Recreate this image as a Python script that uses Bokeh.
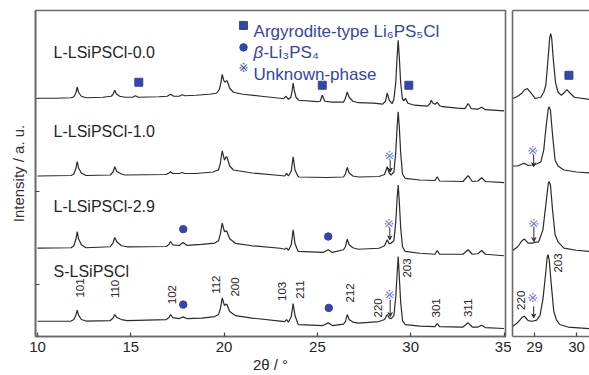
from math import pi
from bokeh.plotting import figure
from bokeh.models import (Range1d, FixedTicker, Arrow, VeeHead, ColumnDataSource,
                          LinearAxis, CustomLabelingPolicy)
from bokeh.layouts import row
from bokeh.embed import file_html
from bokeh.resources import INLINE
from bokeh.core.properties import value

# ------------------------------------------------------------------ data
sample_names = ["L-LSiPSCl-0.0", "L-LSiPSCl-1.0", "L-LSiPSCl-2.9", "S-LSiPSCl"]
name_x = 10.86
name_y = [285, 205.5, 130, 65]

# (2theta, stacked intensity / a.u.)
pattern_00 = [(10.0,239),(11.0,239),(11.8,239.5),(11.95,240.5),(12.05,244),(12.13,250),(12.2,245),(12.35,241),(12.6,239.5),
(13.5,240),(13.95,241),(14.05,243),(14.14,247),(14.22,243.5),(14.4,241),(14.7,240),
(15.1,240),(15.25,241.5),(15.4,240),(16.5,240.5),(16.95,241),(17.13,243),(17.3,241),(17.6,241),(17.75,242.5),(17.9,241.5),
(18.5,242),(19.2,243),(19.6,244),(19.75,248),(19.82,254),(19.9,263),(19.98,257),(20.05,255),(20.12,256.5),(20.17,256.3),(20.3,249),(20.5,245),
(21.0,243),(22.0,241),(23.0,239),(23.2,238.5),(23.3,241),(23.45,238),(23.58,240),(23.65,247),(23.7,254.3),(23.76,247),(23.85,240),(24.0,237),
(25.0,235.5),(25.15,236),(25.26,242),(25.4,236),(25.8,235),(26.4,235),(26.5,239),(26.6,245.3),(26.7,240),(26.9,236),(27.2,234.5),
(28.0,234),(28.5,233),(28.65,236),(28.74,244),(28.85,237),(29.0,233.5),(29.1,238),(29.2,255),(29.27,280),(29.33,297),(29.39,280),(29.46,255),(29.56,238),(29.65,236.5),(29.72,239),(29.85,234),
(30.2,232),(30.9,231),(31.05,234),(31.1,237),(31.2,234),(31.3,233),(31.42,235),(31.55,231.5),(31.7,230.5),(32.5,229),(32.9,228.5),(33.08,233.7),(33.25,228.5),(33.6,228),(33.8,230),(34.0,227.5),(35.0,226.3)]

pattern_10 = [(10.0,161),(11.8,161.5),(11.95,163),(12.05,168),(12.13,175.3),(12.2,169),(12.35,164),(12.6,161.5),
(13.9,162),(14.05,165),(14.14,170.3),(14.25,165.5),(14.5,163),(14.7,162),
(16.9,162.5),(17.05,164),(17.13,165.3),(17.25,163.5),(17.6,163.5),(17.75,164.5),(17.9,163.5),
(18.5,163.5),(19.4,165),(19.7,167),(19.8,174),(19.9,186.3),(20.02,177),(20.1,180),(20.15,180.3),(20.3,171),(20.5,167),
(21.5,164),(23.0,161.5),(23.25,161),(23.35,163.7),(23.45,161),(23.6,166),(23.7,180.3),(23.8,167),(23.95,161),(24.0,160),
(25.5,159.5),(26.4,160),(26.5,163),(26.6,169.7),(26.7,164),(26.9,161),(27.2,160),
(28.3,160.5),(28.6,162.5),(28.74,170.3),(28.85,164),(28.95,162),(29.1,165),(29.2,185),(29.27,210),(29.33,225.3),(29.39,210),(29.46,185),(29.56,163),(29.7,158.7),
(30.5,157),(31.3,156.5),(31.42,160.3),(31.55,156),(32.8,155.5),(33.08,161.3),(33.3,155.5),(33.6,156),(33.8,159.3),(34.0,155.5),(35.0,154.3)]

pattern_29 = [(10.0,88.7),(11.8,89),(11.95,91),(12.05,97),(12.13,105.3),(12.2,98),(12.35,92),(12.6,89),
(13.9,90),(14.05,94),(14.14,99.3),(14.25,95),(14.5,91),(14.8,90),
(16.9,90.3),(17.05,92.5),(17.13,95.3),(17.25,92),(17.6,91.3),(17.8,94.3),(18.0,91.5),
(18.8,92.5),(19.5,93.7),(19.7,96),(19.8,103),(19.9,113.7),(20.02,105),(20.1,106),(20.15,105.3),(20.3,98),(20.6,93.5),
(21.5,91),(23.0,88.5),(23.25,87.5),(23.35,88.7),(23.45,86.5),(23.6,92),(23.7,107),(23.8,93),(23.95,86),(24.0,85.3),
(25.3,84.3),(25.58,87),(25.8,84.3),(26.4,87),(26.5,90),(26.6,97.7),(26.7,92),(26.9,89),(27.2,87.5),
(28.3,88.5),(28.6,91),(28.74,97),(28.85,93),(28.95,93.7),(29.1,96),(29.2,115),(29.27,138),(29.33,152),(29.39,135),(29.46,110),(29.56,90),(29.7,85.3),
(30.5,83.5),(31.3,82.5),(31.42,86.3),(31.55,82.5),(32.8,82.5),(33.08,87),(33.3,82.5),(33.6,83),(33.8,86.3),(34.0,82.5),(35.0,81)]

pattern_s = [(10.0,15.3),(11.8,15.5),(11.95,17),(12.05,21),(12.13,26.3),(12.2,21.5),(12.35,17),(12.6,15.5),
(13.9,16),(14.05,18.5),(14.14,22),(14.25,19),(14.5,17),(14.8,16),
(16.9,17),(17.05,19),(17.13,22),(17.25,19),(17.6,18),(17.8,19.7),(18.0,18),
(18.8,18.5),(19.5,20),(19.7,22),(19.8,28),(19.9,38.7),(20.02,31),(20.1,32.5),(20.15,32),(20.3,25),(20.6,21),
(21.5,18.5),(23.0,15.5),(23.25,15),(23.35,17),(23.45,14.5),(23.6,20),(23.7,33),(23.8,21),(23.95,13),(24.0,12),
(25.3,11),(25.58,13.7),(25.8,11),(26.4,12.5),(26.5,15),(26.6,22),(26.7,17),(26.9,14.5),(27.2,13.5),
(28.3,15),(28.6,17),(28.74,22),(28.85,18.5),(28.95,18),(29.1,21),(29.2,40),(29.27,62),(29.33,80.3),(29.39,60),(29.46,35),(29.56,16),(29.7,12),
(30.5,10.5),(31.3,10),(31.42,13),(31.55,10),(32.8,9.5),(33.08,13.7),(33.3,9.5),(33.6,9.5),(33.8,11.3),(34.0,9),(35.0,8)]

# enlarged 28.5-30.3 region
zoom_00 = [(28.45,238),(28.6,241),(28.7,244),(28.75,247),(28.83,248.7),(28.92,244),(29.02,238.7),(29.15,240),(29.22,245),(29.27,252),(29.32,277),(29.36,299),(29.385,303.7),(29.41,299),(29.45,277),(29.5,255),(29.56,245),(29.64,242),(29.72,245),(29.77,247.7),(29.85,244),(29.95,240),(30.35,237.5)]
zoom_10 = [(28.45,171),(28.6,171),(28.7,173),(28.76,173.7),(28.85,171.5),(28.95,172),(29.05,173),(29.15,175),(29.22,187),(29.28,212),(29.33,229),(29.35,230.3),(29.38,227),(29.43,202),(29.49,177),(29.56,171),(29.7,167),(30.0,165),(30.35,164)]
zoom_29 = [(28.45,85.3),(28.6,90),(28.7,96),(28.76,97.7),(28.85,93.7),(28.95,93.7),(29.0,94.5),(29.1,95),(29.2,107),(29.27,132),(29.33,154),(29.35,155.3),(29.38,152),(29.43,127),(29.49,102),(29.56,95),(29.7,88.7),(30.0,86.5),(30.35,85.3)]
zoom_s = [(28.45,9),(28.6,14),(28.7,19),(28.76,20.3),(28.85,16),(28.95,15.3),(29.05,16.5),(29.13,21),(29.2,37),(29.27,65),(29.3,79),(29.32,82),(29.35,77),(29.4,52),(29.46,25),(29.52,17),(29.6,12),(29.8,9.5),(30.35,7.7)]

# phase markers
argyro_x = [15.43, 25.26, 29.90]
argyro_y = [255, 252, 252]
beta_x = [17.81, 25.58, 17.81, 25.61]
beta_y = [107.7, 100.3, 32, 28.7]
unknown_x = [28.86, 28.84, 28.86]
unknown_y = [182, 113.7, 42]
arrow_x = [28.9, 28.88, 28.9]
arrow_y0 = [177, 109, 37]
arrow_y1 = [165, 97, 20]

zoom_argyro_x = [29.82]
zoom_argyro_y = [262]
zoom_unknown_x = [28.96, 28.98, 28.96]
zoom_unknown_y = [186.3, 113.7, 38.7]
zoom_arrow_x = [28.98, 28.985, 28.98]
zoom_arrow_y0 = [182, 109, 30.3]
zoom_arrow_y1 = [170.3, 95.3, 18.7]

# Miller indices of S-LSiPSCl
hkl = ["101", "110", "102", "112", "200", "103", "211", "212", "220", "203", "301", "311"]
hkl_x = [12.30, 14.14, 17.22, 19.59, 20.61, 23.11, 24.09, 26.77, 28.24, 29.81, 31.37, 33.06]
hkl_y = [48.7, 47.7, 42, 52, 49.7, 45.3, 47, 43.7, 28.7, 68.7, 28.7, 28.7]
zoom_hkl = ["220", "203"]
zoom_hkl_x = [28.68, 29.57]
zoom_hkl_y = [36.3, 73.7]

main_ticks = [10, 15, 20, 25, 30, 35]
zoom_ticks = [29, 30]
intensity_ticks = [52, 145, 239]

# legend
legend_mark_x = 21.04
legend_mark_y = [312, 290, 269]
legend_text_x = 21.58
legend_text_y = [306, 284.5, 262.5]

# ------------------------------------------------------------------ style
FONT = "Liberation Sans"
INK = "#2a2a2a"
FRAME = "#6a6a6a"
BLUE = "#3446a8"
BLUE_L = "#6d78d4"
TXT = "#262626"

NO_LABELS = CustomLabelingPolicy(code="""
const all = Array.from(indices)
for (const i of all) { indices.unset(i) }
return indices
""")


def style_axis(ax, ticks):
    ax.ticker = FixedTicker(ticks=ticks)
    ax.major_tick_in = 4
    ax.major_tick_out = 0
    ax.minor_tick_in = 0
    ax.minor_tick_out = 0
    ax.axis_line_color = FRAME
    ax.axis_line_width = 1.6
    ax.major_tick_line_color = "#444444"
    ax.major_tick_line_width = 1.2
    ax.major_label_text_font = FONT
    ax.major_label_text_font_size = "15px"
    ax.major_label_text_color = TXT
    ax.major_label_standoff = 5


def make_fig(width, xr, left, right, ticks):
    p = figure(width=width, height=375, x_range=xr, y_range=Range1d(0, 327),
               output_backend="svg", toolbar_location=None,
               min_border_left=left, min_border_right=right,
               min_border_top=10, min_border_bottom=38,
               background_fill_color="white", border_fill_color="white")
    p.grid.visible = False
    style_axis(p.xaxis[0], ticks)
    return p


# ---------------- main panel: frame x 35..505, y 10..337
p1 = make_fig(511, Range1d(9.893, 35.08), 35, 6, main_ticks)
p1.outline_line_color = FRAME
p1.outline_line_width = 1.6
ax = p1.xaxis[0]
ax.axis_label = "2θ / °"
ax.axis_label_text_font = FONT
ax.axis_label_text_font_style = "normal"
ax.axis_label_text_font_size = "15px"
ax.axis_label_text_color = TXT
ax.axis_label_standoff = 1

ay = p1.yaxis[0]
style_axis(ay, intensity_ticks)
ay.major_label_policy = NO_LABELS
ay.major_label_text_font_size = "1px"
ay.major_label_standoff = 0
ay.axis_label = "Intensity / a. u."
ay.axis_label_text_font = FONT
ay.axis_label_text_font_style = "normal"
ay.axis_label_text_font_size = "15px"
ay.axis_label_text_color = "#333333"
ay.axis_label_standoff = 4

for pat in (pattern_00, pattern_10, pattern_29, pattern_s):
    xs, ys = zip(*pat)
    p1.line(list(xs), list(ys), line_color=INK, line_width=1.2)

p1.text(x=[name_x] * 4, y=name_y, text=sample_names, text_font=value(FONT),
        text_font_size="16px", text_color=TXT, text_baseline="alphabetic", text_align="left")

p1.scatter(argyro_x, argyro_y, marker="square", size=8, fill_color=BLUE, line_color=BLUE)
p1.scatter(beta_x, beta_y, marker="circle", size=7.5, fill_color=BLUE, line_color=BLUE)
p1.text(x=unknown_x, y=unknown_y, text=["※"] * 3, text_font=value("DejaVu Sans"),
        text_font_size="13px", text_color=BLUE_L, text_align="center", text_baseline="middle")
p1.add_layout(Arrow(end=VeeHead(size=4, line_color=INK, line_width=1, fill_color=INK),
                    source=ColumnDataSource(dict(x=arrow_x, y0=arrow_y0, y1=arrow_y1)),
                    x_start="x", y_start="y0", x_end="x", y_end="y1",
                    line_color=INK, line_width=1))
p1.text(x=hkl_x, y=hkl_y, text=hkl, angle=pi / 2, text_font=value(FONT),
        text_font_size="11.5px", text_color=TXT, text_align="center", text_baseline="middle")

# legend
p1.scatter([legend_mark_x], [legend_mark_y[0]], marker="square", size=8, fill_color=BLUE, line_color=BLUE)
p1.scatter([legend_mark_x], [legend_mark_y[1]], marker="circle", size=7.5, fill_color=BLUE, line_color=BLUE)
p1.text(x=[legend_mark_x], y=[legend_mark_y[2]], text=["※"], text_font=value("DejaVu Sans"),
        text_font_size="12px", text_color=BLUE, text_align="center", text_baseline="middle")
p1.text(x=[legend_text_x], y=[legend_text_y[0]], text=["Argyrodite-type Li₆PS₅Cl"],
        text_font=value(FONT), text_font_size="17px", text_color=BLUE, text_baseline="alphabetic")
p1.text(x=[legend_text_x], y=[legend_text_y[1]], text=["β"], text_font=value(FONT),
        text_font_style="italic", text_font_size="17px", text_color=BLUE, text_baseline="alphabetic")
p1.text(x=[legend_text_x], y=[legend_text_y[1]], text=["-Li₃PS₄"], x_offset=9.8,
        text_font=value(FONT), text_font_size="17px", text_color=BLUE, text_baseline="alphabetic")
p1.text(x=[legend_text_x], y=[legend_text_y[2]], text=["Unknown-phase"], text_font=value(FONT),
        text_font_size="17px", text_color=BLUE, text_baseline="alphabetic")

# ---------------- enlarged panel: frame x 512..589 (29 -> 534 px, 42 px per degree)
p2 = make_fig(78, Range1d(28.476, 30.31), 1, 0, zoom_ticks)
p2.outline_line_color = None
p2.yaxis.ticker = FixedTicker(ticks=[])
p2.yaxis.axis_line_color = FRAME
p2.yaxis.axis_line_width = 1.6
p2.yaxis.major_label_standoff = 0
p2.yaxis.major_tick_out = 0
p2.yaxis.minor_tick_out = 0
top_axis = LinearAxis(ticker=FixedTicker(ticks=[]), axis_line_color=FRAME, axis_line_width=1.6,
                      major_tick_out=0, minor_tick_out=0, major_label_standoff=0)
p2.add_layout(top_axis, "above")

for pat in (zoom_00, zoom_10, zoom_29, zoom_s):
    xs, ys = zip(*pat)
    p2.line(list(xs), list(ys), line_color=INK, line_width=1.2)
p2.scatter(zoom_argyro_x, zoom_argyro_y, marker="square", size=8, fill_color=BLUE, line_color=BLUE)
p2.text(x=zoom_unknown_x, y=zoom_unknown_y, text=["※"] * 3, text_font=value("DejaVu Sans"),
        text_font_size="13px", text_color=BLUE_L, text_align="center", text_baseline="middle")
p2.add_layout(Arrow(end=VeeHead(size=4, line_color=INK, line_width=1, fill_color=INK),
                    source=ColumnDataSource(dict(x=zoom_arrow_x, y0=zoom_arrow_y0, y1=zoom_arrow_y1)),
                    x_start="x", y_start="y0", x_end="x", y_end="y1",
                    line_color=INK, line_width=1))
p2.text(x=zoom_hkl_x, y=zoom_hkl_y, text=zoom_hkl, angle=pi / 2, text_font=value(FONT),
        text_font_size="11.5px", text_color=TXT, text_align="center", text_baseline="middle")

layout = row(p1, p2, spacing=0)
open("out.html", "w").write(file_html(layout, INLINE))
